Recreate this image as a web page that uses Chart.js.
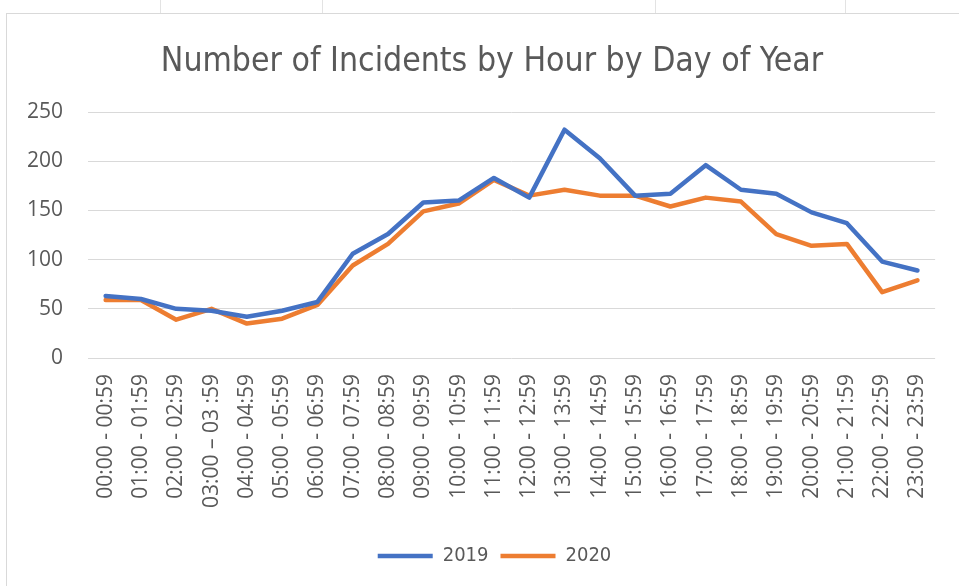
<!DOCTYPE html>
<html>
<head>
<meta charset="utf-8">
<script src="https://cdn.jsdelivr.net/npm/chart.js@4"></script>
<style>
  html, body { margin: 0; padding: 0; background: #fff; }
  #wrap { position: relative; width: 959px; height: 586px; overflow: hidden; }
  #myChart { position: absolute; left: 0; top: 0; }
  .frame-top { position: absolute; left: 6px; top: 13px; width: 953px; height: 1px; background: #d9d9d9; }
  .frame-left { position: absolute; left: 6px; top: 13px; width: 1px; height: 573px; background: #d9d9d9; }
  .cell { position: absolute; top: 0; width: 1px; height: 13px; background: #e3e3e3; }
</style>
</head>
<body>
<div id="wrap">
  <canvas id="myChart" width="959" height="586"></canvas>
  <div class="frame-top"></div>
  <div class="frame-left"></div>
  <div class="cell" style="left:160px"></div>
  <div class="cell" style="left:322px"></div>
  <div class="cell" style="left:655px"></div>
  <div class="cell" style="left:845px"></div>
</div>
<script>
const hours = ['00:00 - 00:59', '01:00 - 01:59', '02:00 - 02:59', '03:00 – 03 :59',
  '04:00 - 04:59', '05:00 - 05:59', '06:00 - 06:59', '07:00 - 07:59',
  '08:00 - 08:59', '09:00 - 09:59', '10:00 - 10:59', '11:00 - 11:59',
  '12:00 - 12:59', '13:00 - 13:59', '14:00 - 14:59', '15:00 - 15:59',
  '16:00 - 16:59', '17:00 - 17:59', '18:00 - 18:59', '19:00 - 19:59',
  '20:00 - 20:59', '21:00 - 21:59', '22:00 - 22:59', '23:00 - 23:59'];
const incidents2019 = [63, 60, 50, 48, 42, 48, 57, 106, 126, 158, 160, 183, 163, 232, 203, 165, 167, 196, 171, 167, 148, 137, 98, 89];
const incidents2020 = [59, 59, 39, 50, 35, 40, 54, 94, 116, 149, 157, 181, 165, 171, 165, 165, 154, 163, 159, 126, 114, 116, 67, 79];
const yMin = 0, yMax = 250, yStep = 50;
const chartTitle = 'Number of Incidents by Hour by Day of Year';

const narrow = '"DejaVu Sans Condensed", "Liberation Sans Narrow", "Open Sans", sans-serif';

// title drawn by hand so it can sit a bit right of the canvas centre, like the Excel original
// (legend gets nudged the same way)
const excelLook = {
  id: 'excelLook',
  afterLayout(chart) {
    chart.legend.left += 23;
    chart.legend.right += 23;
  },
  afterDraw(chart) {
    const c = chart.ctx;
    c.save();
    c.font = '33.5px ' + narrow;
    c.fillStyle = '#595959';
    c.textAlign = 'center';
    c.textBaseline = 'middle';
    c.fillText(chartTitle, 492, 62);
    c.restore();
  }
};

const ctx = document.getElementById('myChart');

new Chart(ctx, {
  type: 'line',
  data: {
    labels: hours,
    datasets: [{
      label: '2019',
      data: incidents2019,
      borderColor: '#4472C4',
      backgroundColor: '#4472C4',
      borderWidth: 4.5,
      borderCapStyle: 'round',
      borderJoinStyle: 'round',
      pointRadius: 0,
      tension: 0
    }, {
      label: '2020',
      data: incidents2020,
      borderColor: '#ED7D31',
      backgroundColor: '#ED7D31',
      borderWidth: 4.5,
      borderCapStyle: 'round',
      borderJoinStyle: 'round',
      pointRadius: 0,
      tension: 0
    }]
  },
  plugins: [excelLook],
  options: {
    responsive: false,
    animation: false,
    layout: { padding: { top: 112, left: 0, right: 16, bottom: 10 } },
    plugins: {
      title: { display: false },
      legend: {
        position: 'bottom',
        labels: {
          color: '#595959',
          font: { family: narrow, size: 20 },
          usePointStyle: true,
          pointStyle: 'line',
          pointStyleWidth: 55,
          boxHeight: 5,
          padding: 12
        }
      },
      tooltip: { enabled: false }
    },
    scales: {
      x: {
        offset: true,
        afterFit: s => { s.height += 10; },
        grid: { display: false, drawTicks: false },
        border: { display: false },
        ticks: {
          color: '#595959',
          font: { family: '"Open Sans", sans-serif', size: 21 },
          minRotation: 90,
          maxRotation: 90,
          autoSkip: false,
          padding: 16
        }
      },
      y: {
        min: yMin,
        max: yMax,
        afterFit: s => { s.width = 88; },
        grid: { color: '#d9d9d9', lineWidth: 1, drawTicks: false },
        border: { display: false },
        ticks: {
          stepSize: yStep,
          color: '#595959',
          font: { family: '"Open Sans", sans-serif', size: 21 },
          padding: 25
        }
      }
    }
  }
});
</script>
</body>
</html>
